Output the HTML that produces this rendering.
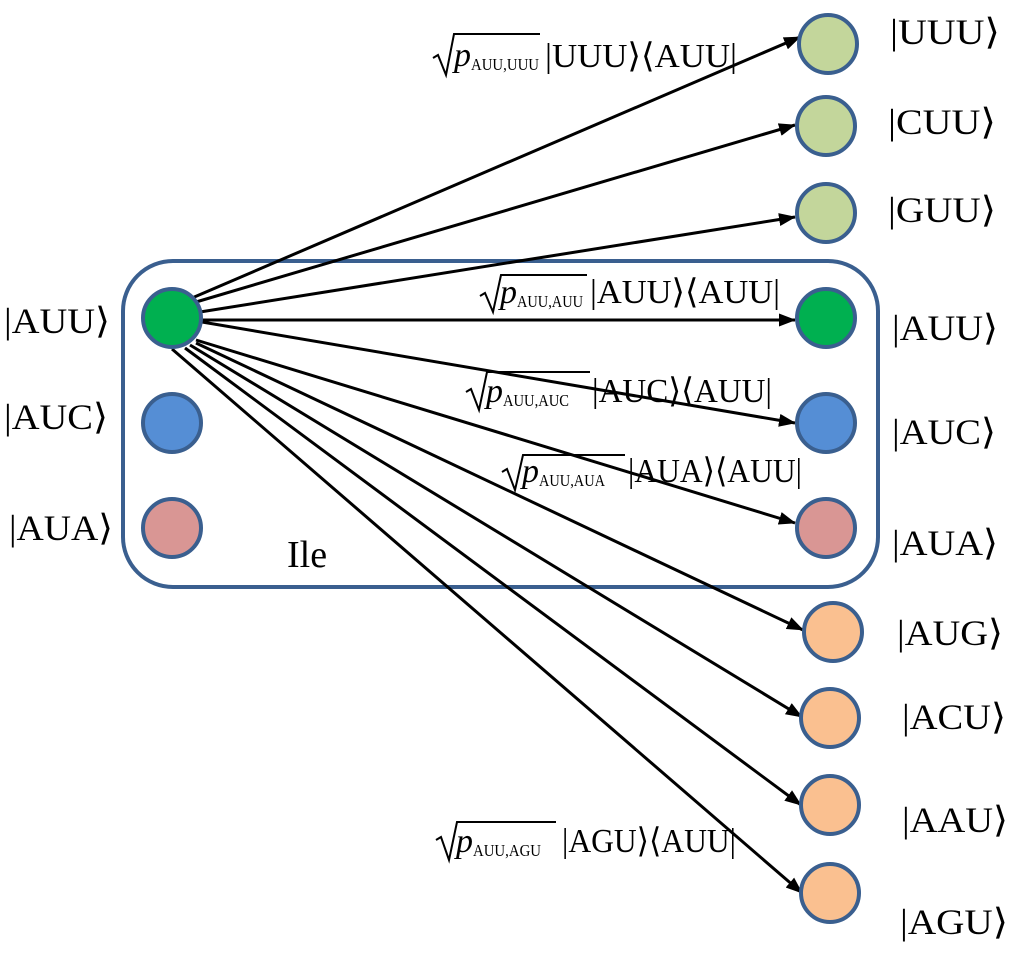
<!DOCTYPE html>
<html><head><meta charset="utf-8"><style>
html,body{margin:0;padding:0;background:#fff;}
svg{display:block;}
text{font-family:"Liberation Serif","DejaVu Serif",serif;fill:#000;}
</style></head><body>
<svg width="1024" height="953" viewBox="0 0 1024 953" xmlns="http://www.w3.org/2000/svg">
<defs>
<marker id="ah" markerWidth="17" markerHeight="13" refX="16" refY="6.5" orient="auto" markerUnits="userSpaceOnUse" viewBox="0 0 17 13">
<path d="M0,0 L17,6.5 L0,13 z" fill="#000"/>
</marker>
</defs>
<rect x="123" y="261" width="755" height="326" rx="50" ry="50" fill="none" stroke="#3a5f8f" stroke-width="4"/>
<g stroke="#000" stroke-width="3" fill="none" marker-end="url(#ah)">
<line x1="192" y1="298" x2="800" y2="37"/>
<line x1="196" y1="302" x2="795" y2="125"/>
<line x1="200" y1="312" x2="795" y2="217"/>
<line x1="202" y1="320" x2="795" y2="320"/>
<line x1="202" y1="322" x2="795" y2="423"/>
<line x1="196" y1="340" x2="795" y2="523"/>
<line x1="196" y1="343" x2="803" y2="630"/>
<line x1="190" y1="345" x2="802" y2="717"/>
<line x1="185" y1="348" x2="801" y2="805"/>
<line x1="172" y1="349" x2="802" y2="893"/>
</g>
<g stroke="#3a5f8f" stroke-width="4">
<circle cx="172" cy="318" r="29" fill="#00b050"/>
<circle cx="172" cy="423" r="29" fill="#558ed5"/>
<circle cx="172" cy="528" r="29" fill="#d99694"/>
<circle cx="828" cy="44" r="29" fill="#c3d69b"/>
<circle cx="826" cy="126" r="29" fill="#c3d69b"/>
<circle cx="826" cy="213" r="29" fill="#c3d69b"/>
<circle cx="826" cy="318" r="29" fill="#00b050"/>
<circle cx="826" cy="423" r="29" fill="#558ed5"/>
<circle cx="826" cy="528" r="29" fill="#d99694"/>
<circle cx="833" cy="632" r="29" fill="#fac090"/>
<circle cx="830" cy="718" r="29" fill="#fac090"/>
<circle cx="830" cy="805" r="29" fill="#fac090"/>
<circle cx="830" cy="893" r="29" fill="#fac090"/>
</g>
<g font-size="36">
<text x="4" y="333" textLength="106" lengthAdjust="spacingAndGlyphs">|AUU⟩</text>
<text x="4" y="429" textLength="104" lengthAdjust="spacingAndGlyphs">|AUC⟩</text>
<text x="9" y="540" textLength="104" lengthAdjust="spacingAndGlyphs">|AUA⟩</text>
<text x="890" y="44" textLength="110" lengthAdjust="spacingAndGlyphs">|UUU⟩</text>
<text x="888" y="134" textLength="108" lengthAdjust="spacingAndGlyphs">|CUU⟩</text>
<text x="888" y="222" textLength="108" lengthAdjust="spacingAndGlyphs">|GUU⟩</text>
<text x="892" y="340" textLength="106" lengthAdjust="spacingAndGlyphs">|AUU⟩</text>
<text x="892" y="444" textLength="104" lengthAdjust="spacingAndGlyphs">|AUC⟩</text>
<text x="892" y="555" textLength="106" lengthAdjust="spacingAndGlyphs">|AUA⟩</text>
<text x="897" y="645" textLength="106" lengthAdjust="spacingAndGlyphs">|AUG⟩</text>
<text x="902" y="729" textLength="104" lengthAdjust="spacingAndGlyphs">|ACU⟩</text>
<text x="902" y="832" textLength="106" lengthAdjust="spacingAndGlyphs">|AAU⟩</text>
<text x="900" y="934" textLength="108" lengthAdjust="spacingAndGlyphs">|AGU⟩</text>
<text x="287" y="567" font-size="38">Ile</text>
</g>
<g stroke="#000" stroke-width="2" fill="none">
<path d="M433,58 L438,55 L446,75 L454,34 L540,34"/>
<path d="M480,296 L485,293 L493,312 L501,275 L587,275"/>
<path d="M466,392 L471,389 L479,410 L487,372 L590,372"/>
<path d="M502,472 L507,469 L515,490 L523,455 L625,455"/>
<path d="M436,840 L441,837 L449,860 L457,822 L556,822"/>
</g>
<g font-size="34">
<text x="454" y="66" font-style="italic">p</text>
<text x="471" y="70" font-size="17" textLength="68" lengthAdjust="spacingAndGlyphs">AUU,UUU</text>
<text x="545" y="67" textLength="192" lengthAdjust="spacingAndGlyphs">|UUU⟩⟨AUU|</text>

<text x="500" y="303" font-style="italic">p</text>
<text x="517" y="307" font-size="17" textLength="66" lengthAdjust="spacingAndGlyphs">AUU,AUU</text>
<text x="590" y="303" textLength="190" lengthAdjust="spacingAndGlyphs">|AUU⟩⟨AUU|</text>

<text x="486" y="402" font-style="italic">p</text>
<text x="503" y="406" font-size="17" textLength="66" lengthAdjust="spacingAndGlyphs">AUU,AUC</text>
<text x="592" y="402" textLength="180" lengthAdjust="spacingAndGlyphs">|AUC⟩⟨AUU|</text>

<text x="522" y="482" font-style="italic">p</text>
<text x="539" y="486" font-size="17" textLength="66" lengthAdjust="spacingAndGlyphs">AUU,AUA</text>
<text x="628" y="482" textLength="174" lengthAdjust="spacingAndGlyphs">|AUA⟩⟨AUU|</text>

<text x="456" y="852" font-style="italic">p</text>
<text x="473" y="856" font-size="17" textLength="68" lengthAdjust="spacingAndGlyphs">AUU,AGU</text>
<text x="562" y="852" textLength="174" lengthAdjust="spacingAndGlyphs">|AGU⟩⟨AUU|</text>
</g>
</svg>
</body></html>
